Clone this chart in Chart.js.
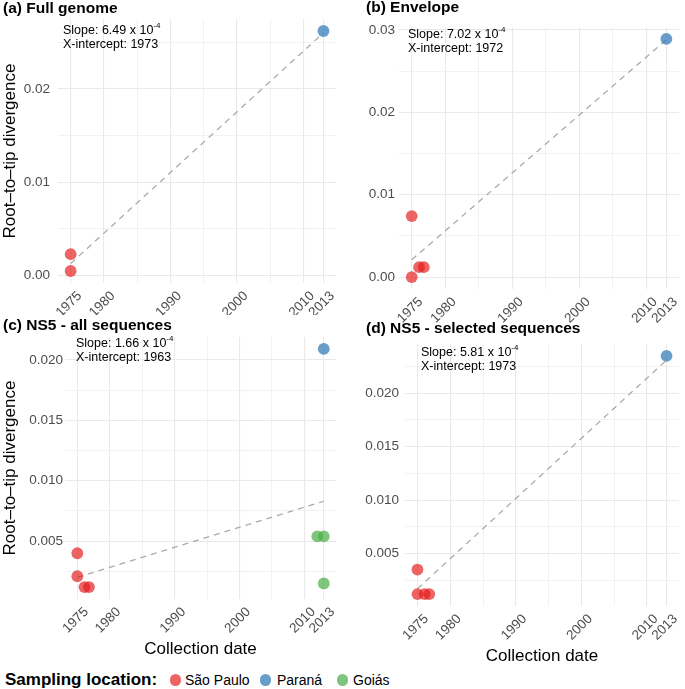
<!DOCTYPE html>
<html>
<head>
<meta charset="utf-8">
<script src="https://cdn.jsdelivr.net/npm/chart.js@4.4.1/dist/chart.umd.min.js"></script>
<style>
  html, body { margin:0; padding:0; background:#ffffff; }
  body { width:685px; height:689px; position:relative; overflow:hidden;
         font-family:'Liberation Sans', Arial, Helvetica, sans-serif; color:#000; }
  canvas { position:absolute; }
  .ttl { position:absolute; font-weight:bold; font-size:15.5px; line-height:16px; white-space:nowrap; }
  .ann { position:absolute; font-size:12.5px; line-height:14px; white-space:nowrap; }
  .ann sup { font-size:8px; line-height:0; position:relative; top:-1px; vertical-align:super; }
  .lg { position:absolute; white-space:nowrap; line-height:20px; top:670px; }
  .lt { font-weight:bold; font-size:17px; left:5px; }
  .dot { position:absolute; width:11.5px; height:11.5px; border-radius:50%; top:674px; }
  .lab { font-size:14px; }
</style>
</head>
<body>
<canvas id="pa" width="342" height="315" style="left:0px;top:0px;"></canvas>
<canvas id="pb" width="340" height="325" style="left:345px;top:0px;"></canvas>
<canvas id="pc" width="342" height="345" style="left:0px;top:318px;"></canvas>
<canvas id="pd" width="340" height="352" style="left:345px;top:318px;"></canvas>

<div class="ttl" style="left:3px;top:0px;">(a) Full genome</div>
<div class="ttl" style="left:366px;top:-1px;">(b) Envelope</div>
<div class="ttl" style="left:3px;top:317px;">(c) NS5 - all sequences</div>
<div class="ttl" style="left:366px;top:320px;">(d) NS5 - selected sequences</div>

<div class="ann" id="ann-a" style="left:63px;top:23px;"></div>
<div class="ann" id="ann-b" style="left:408px;top:27px;"></div>
<div class="ann" id="ann-c" style="left:76px;top:336px;"></div>
<div class="ann" id="ann-d" style="left:421px;top:345px;"></div>

<span class="lg lt">Sampling location:</span>
<span class="dot" id="dot0" style="left:169.5px;"></span><span class="lg lab" id="lab0" style="left:185px;"></span>
<span class="dot" id="dot1" style="left:259.5px;"></span><span class="lg lab" id="lab1" style="left:277px;"></span>
<span class="dot" id="dot2" style="left:336.5px;"></span><span class="lg lab" id="lab2" style="left:353px;"></span>

<script>
// ---------------- DATA ----------------
const locations = ['São Paulo', 'Paraná', 'Goiás'];
const panelTitles = ['(a) Full genome', '(b) Envelope', '(c) NS5 - all sequences', '(d) NS5 - selected sequences'];
const slopeMantissa = ['6.49', '7.02', '1.66', '5.81'];
const slopeExponent = ['-4', '-4', '-4', '-4'];
const xIntercepts = ['1973', '1972', '1963', '1973'];

const xTickYears = [1975, 1980, 1990, 2000, 2010, 2013];
const xMinorYears = [1985, 1995, 2005];

// (a) Full genome
const aSaoPauloX = [1975, 1975];
const aSaoPauloY = [0.0023, 0.0005];
const aParanaX = [2013];
const aParanaY = [0.0262];
const aGoiasX = [];
const aGoiasY = [];
const aTrendX = [1975, 2013];
const aTrendY = [0.0013, 0.0260];
const aYTicks = [0, 0.01, 0.02];
const aYMinor = [0.005, 0.015, 0.025];

// (b) Envelope
const bSaoPauloX = [1975, 1975, 1976.1, 1976.8];
const bSaoPauloY = [0.0074, 0.0000, 0.0012, 0.0012];
const bParanaX = [2013];
const bParanaY = [0.0289];
const bGoiasX = [];
const bGoiasY = [];
const bTrendX = [1975, 2013];
const bTrendY = [0.0021, 0.0288];
const bYTicks = [0, 0.01, 0.02, 0.03];
const bYMinor = [0.005, 0.015, 0.025];

// (c) NS5 - all sequences
const cSaoPauloX = [1975, 1975, 1976.1, 1976.8];
const cSaoPauloY = [0.0040, 0.0021, 0.0012, 0.0012];
const cParanaX = [2013];
const cParanaY = [0.0209];
const cGoiasX = [2012, 2013, 2013];
const cGoiasY = [0.0054, 0.0054, 0.0015];
const cTrendX = [1975, 2013];
const cTrendY = [0.0020, 0.0083];
const cYTicks = [0.005, 0.010, 0.015, 0.020];
const cYMinor = [0.0025, 0.0075, 0.0125, 0.0175];

// (d) NS5 - selected sequences
const dSaoPauloX = [1975, 1975, 1976.1, 1976.8];
const dSaoPauloY = [0.0035, 0.0012, 0.0012, 0.0012];
const dParanaX = [2013];
const dParanaY = [0.0235];
const dGoiasX = [];
const dGoiasY = [];
const dTrendX = [1975, 2013];
const dTrendY = [0.0017, 0.0231];
const dYTicks = [0.005, 0.010, 0.015, 0.020];
const dYMinor = [0.0025, 0.0075, 0.0125, 0.0175, 0.0225];

// ---------------- STYLE ----------------
const colors = ['rgba(228,26,28,0.68)', 'rgba(55,126,184,0.75)', 'rgba(77,175,74,0.72)'];
const FONT = "'Liberation Sans', Arial, Helvetica, sans-serif";
Chart.defaults.font.family = FONT;

// legend + annotations text
locations.forEach((l, i) => {
  document.getElementById('lab' + i).textContent = l;
  document.getElementById('dot' + i).style.background = colors[i];
});
['a', 'b', 'c', 'd'].forEach((k, i) => {
  document.getElementById('ann-' + k).innerHTML =
    'Slope: ' + slopeMantissa[i] + ' x 10<sup>' + slopeExponent[i] + '</sup><br>X-intercept: ' + xIntercepts[i];
});

function zip(xs, ys) { return xs.map((x, i) => ({ x: x, y: ys[i] })); }
function expand(vals) {
  const mn = Math.min(...vals), mx = Math.max(...vals), e = (mx - mn) * 0.05;
  return [mn - e, mx + e];
}

function makePanel(id, d, g) {
  const [xmin, xmax] = expand([].concat(d.spX, d.prX, d.goX));
  const [ymin, ymax] = expand([].concat(d.spY, d.prY, d.goY));
  const xAll = xTickYears.concat(xMinorYears).sort((a, b) => a - b);
  const yAll = d.yTicks.concat(d.yMinor).sort((a, b) => a - b);
  const isMinorX = v => xMinorYears.includes(v);
  const isMinorY = v => d.yMinor.some(m => Math.abs(m - v) < 1e-9);
  const pt = { pointRadius: 5.9, pointHoverRadius: 5.9, borderWidth: 0, pointBorderWidth: 0 };
  new Chart(document.getElementById(id), {
    type: 'scatter',
    data: {
      datasets: [
        Object.assign({ label: locations[0], data: zip(d.spX, d.spY), backgroundColor: colors[0] }, pt),
        Object.assign({ label: locations[1], data: zip(d.prX, d.prY), backgroundColor: colors[1] }, pt),
        Object.assign({ label: locations[2], data: zip(d.goX, d.goY), backgroundColor: colors[2] }, pt),
        { type: 'line', label: 'trend', data: zip(d.tX, d.tY), borderColor: '#aaaaaa', borderWidth: 1.3,
          borderDash: [6, 5], pointRadius: 0, showLine: true, fill: false, tension: 0 }
      ]
    },
    options: {
      responsive: false, devicePixelRatio: 1, animation: false,
      layout: { padding: { top: g.padTop, right: g.padRight, left: 0, bottom: 0 } },
      plugins: { legend: { display: false }, tooltip: { enabled: false }, title: { display: false } },
      scales: {
        x: {
          type: 'linear', min: xmin, max: xmax,
          afterBuildTicks: s => { s.ticks = xAll.map(v => ({ value: v })); },
          afterFit: s => { s.height = g.xH; },
          ticks: { autoSkip: false, minRotation: 45, maxRotation: 45, padding: g.xPad, labelOffset: g.xOff,
                   color: '#4d4d4d', font: { size: 13.5 },
                   callback: v => isMinorX(v) ? '' : String(v) },
          grid: { drawTicks: false, color: '#e9e9e9', lineWidth: c => (c.tick && isMinorX(c.tick.value)) ? 0.6 : 1.1 },
          border: { display: false },
          title: { display: g.xTitle, text: 'Collection date', color: '#000', font: { size: 17 }, padding: { top: 0, bottom: 3 } }
        },
        y: {
          type: 'linear', min: ymin, max: ymax,
          afterBuildTicks: s => { s.ticks = yAll.map(v => ({ value: v })); },
          afterFit: s => { s.width = g.yW; },
          ticks: { autoSkip: false, padding: g.yPad, color: '#4d4d4d', font: { size: 13.5 },
                   callback: v => isMinorY(v) ? '' : v.toFixed(d.dec) },
          grid: { drawTicks: false, color: '#e9e9e9', lineWidth: c => (c.tick && isMinorY(c.tick.value)) ? 0.6 : 1.1 },
          border: { display: false },
          title: { display: g.yTitle, text: 'Root–to–tip divergence', color: '#000', font: { size: 17 }, padding: 0 }
        }
      }
    }
  });
}

makePanel('pa',
  { spX: aSaoPauloX, spY: aSaoPauloY, prX: aParanaX, prY: aParanaY, goX: aGoiasX, goY: aGoiasY,
    tX: aTrendX, tY: aTrendY, yTicks: aYTicks, yMinor: aYMinor, dec: 2 },
  { padTop: 19, padRight: 2, xH: 32, yW: 58, xPad: 5, xOff: 9, yPad: 8, xTitle: false, yTitle: true });
makePanel('pb',
  { spX: bSaoPauloX, spY: bSaoPauloY, prX: bParanaX, prY: bParanaY, goX: bGoiasX, goY: bGoiasY,
    tX: bTrendX, tY: bTrendY, yTicks: bYTicks, yMinor: bYMinor, dec: 2 },
  { padTop: 27, padRight: 4, xH: 36, yW: 54, xPad: 5, xOff: 9, yPad: 4, xTitle: false, yTitle: false });
makePanel('pc',
  { spX: cSaoPauloX, spY: cSaoPauloY, prX: cParanaX, prY: cParanaY, goX: cGoiasX, goY: cGoiasY,
    tX: cTrendX, tY: cTrendY, yTicks: cYTicks, yMinor: cYMinor, dec: 3 },
  { padTop: 19, padRight: 4, xH: 64, yW: 65, xPad: 5, xOff: 9, yPad: 2, xTitle: true, yTitle: true });
makePanel('pd',
  { spX: dSaoPauloX, spY: dSaoPauloY, prX: dParanaX, prY: dParanaY, goX: dGoiasX, goY: dGoiasY,
    tX: dTrendX, tY: dTrendY, yTicks: dYTicks, yMinor: dYMinor, dec: 3 },
  { padTop: 26, padRight: 6, xH: 64, yW: 60, xPad: 5, xOff: 9, yPad: 6, xTitle: true, yTitle: false });
</script>
</body>
</html>
